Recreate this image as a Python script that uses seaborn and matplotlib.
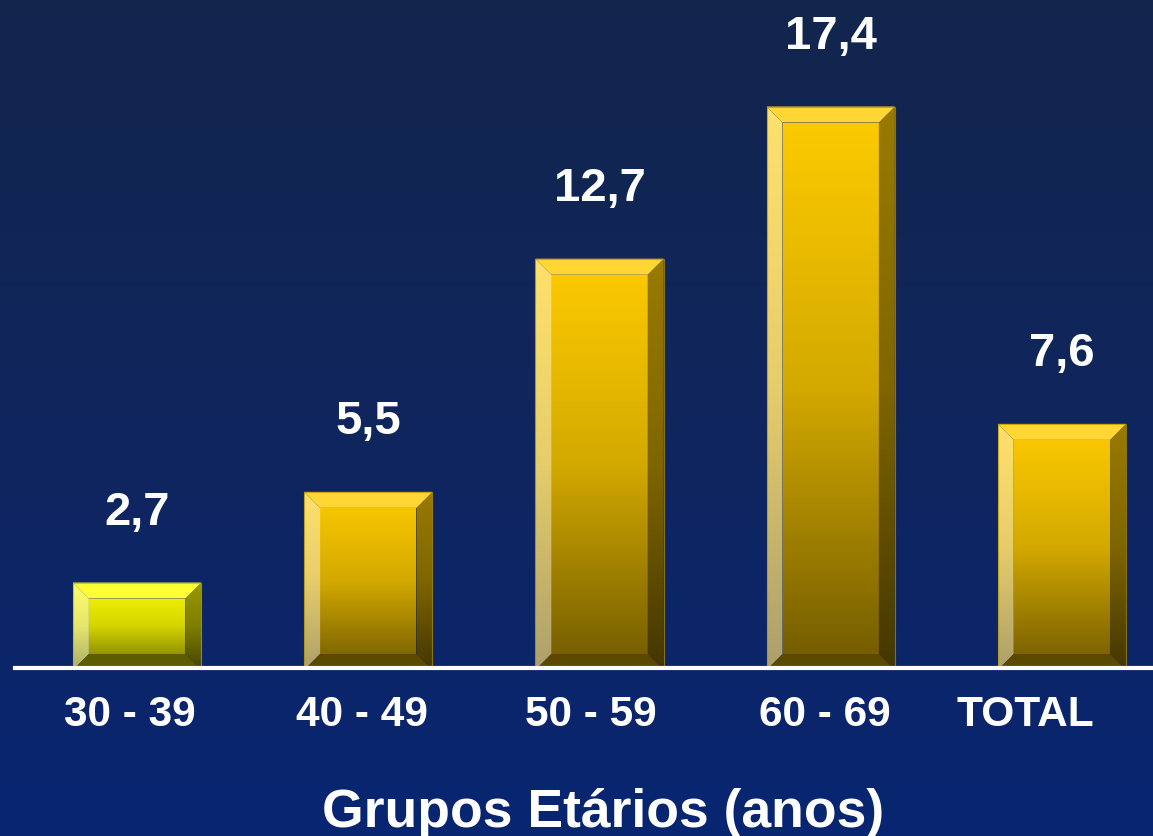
import numpy as np
import pandas as pd
import matplotlib
matplotlib.use("Agg")
import matplotlib.pyplot as plt
from matplotlib.patches import Polygon
from matplotlib.colors import LinearSegmentedColormap, to_rgb
from matplotlib.transforms import ScaledTranslation
import seaborn as sns

# ---- data -------------------------------------------------------------
grupos = ["30 - 39", "40 - 49", "50 - 59", "60 - 69", "TOTAL"]
valores = [2.7, 5.5, 12.7, 17.4, 7.6]
rotulos = ["2,7", "5,5", "12,7", "17,4", "7,6"]
titulo_x = "Grupos Etários (anos)"

# ---- style -------------------------------------------------------------
tons = ["#ffff00", "#ffcc00", "#ffcc00", "#ffcc00", "#ffcc00"]
ajuste_rotulo_px = [-7, -6, -9, -6, -37]   # horizontal nudge of category labels
BEVEL_PX = 16

plt.rcParams["font.family"] = ["Liberation Sans", "DejaVu Sans"]
plt.rcParams["font.weight"] = "bold"

W, H, DPI = 1153, 836, 100
fig = plt.figure(figsize=(W / DPI, H / DPI), dpi=DPI)

# navy vertical gradient background
bg = fig.add_axes([0, 0, 1, 1], zorder=0)
bg_cmap = LinearSegmentedColormap.from_list("fundo", ["#13254d", "#10255d", "#082572"])
bg.imshow(np.linspace(0, 1, 256)[:, None], aspect="auto", cmap=bg_cmap,
          extent=[0, 1, 0, 1], origin="upper")
bg.set_axis_off()

ax = fig.add_axes([15 / W, 166 / H, (W - 15) / W, 670 / H], zorder=1)
ax.patch.set_alpha(0)

df = pd.DataFrame({"grupo": grupos, "valor": valores})
sns.barplot(data=df, x="grupo", y="valor", order=grupos, width=0.555,
            color="#ffcc00", saturation=1, ax=ax, zorder=2)

XLIM = (-0.528, 4.394)
YLIM = (0, 20.69)
ax.set_xlim(*XLIM)
ax.set_ylim(*YLIM)

px_x = (W - 15) / (XLIM[1] - XLIM[0])
px_y = 670 / (YLIM[1] - YLIM[0])
dx = BEVEL_PX / px_x
dy = BEVEL_PX / px_y


def rgb(c):
    return np.array(to_rgb(c))


def tint(c, t):
    c = np.asarray(c)
    return np.clip(c * (1 - t) + t, 0, 1)


def gradient(stops):
    return LinearSegmentedColormap.from_list("g", [tuple(s) for s in stops])


grad = np.linspace(0, 1, 256)[:, None]

for patch, base in zip(ax.patches, tons):
    x0, w, h = patch.get_x(), patch.get_width(), patch.get_height()
    patch.set_visible(False)
    b = rgb(base)
    face = [b, b * 0.83, b * 0.44]
    left = [tint(c, 0.42) for c in face]
    right = [c * 0.6 for c in face]
    ext = [x0, x0 + w, 0, h]

    polys = {
        "face": [(x0 + dx, dy), (x0 + w - dx, dy), (x0 + w - dx, h - dy), (x0 + dx, h - dy)],
        "left": [(x0, 0), (x0 + dx, dy), (x0 + dx, h - dy), (x0, h)],
        "right": [(x0 + w, 0), (x0 + w, h), (x0 + w - dx, h - dy), (x0 + w - dx, dy)],
    }
    for key, stops in (("face", face), ("left", left), ("right", right)):
        clip = Polygon(polys[key], closed=True, transform=ax.transData)
        im = ax.imshow(grad, aspect="auto", cmap=gradient(stops), extent=ext,
                       origin="upper", zorder=2, interpolation="bilinear")
        im.set_clip_path(clip)

    top = Polygon([(x0, h), (x0 + dx, h - dy), (x0 + w - dx, h - dy), (x0 + w, h)],
                  closed=True, facecolor=tint(b, 0.2), edgecolor="none", zorder=3)
    bottom = Polygon([(x0, 0), (x0 + w, 0), (x0 + w - dx, dy), (x0 + dx, dy)],
                     closed=True, facecolor=b * 0.36, edgecolor="none", zorder=3)
    ax.add_patch(top)
    ax.add_patch(bottom)
    outline = Polygon([(x0, 0), (x0, h), (x0 + w, h), (x0 + w, 0)], closed=True,
                      facecolor="none", edgecolor=b * 0.72, lw=0.8, alpha=0.7, zorder=4)
    ax.add_patch(outline)

ax.set_xlim(*XLIM)
ax.set_ylim(*YLIM)

# value labels above each bar
for i, (v, txt) in enumerate(zip(valores, rotulos)):
    ax.annotate(txt, (i, v), xytext=(0, 70 * 0.72), textcoords="offset points",
                ha="center", va="center", fontsize=34, fontweight="bold",
                color="white", zorder=6)

# baseline
ax.axhline(2 / px_y, color="white", lw=3, zorder=5, clip_on=False)

ax.set_xticks(range(len(grupos)))
ax.set_xticklabels(grupos, fontsize=30.5, fontweight="bold", color="white")
ax.tick_params(axis="x", length=0, pad=18)
for lab, off in zip(ax.get_xticklabels(), ajuste_rotulo_px):
    lab.set_transform(lab.get_transform() + ScaledTranslation(off / DPI, 0, fig.dpi_scale_trans))
ax.set_yticks([])
ax.set_ylabel("")
ax.set_xlabel(titulo_x, fontsize=38.5, fontweight="bold", color="white", va="center")
ax.xaxis.set_label_coords((603 - 15) / (W - 15), (670 - 813) / 670)
for s in ax.spines.values():
    s.set_visible(False)

fig.savefig("out.png", dpi=DPI)
